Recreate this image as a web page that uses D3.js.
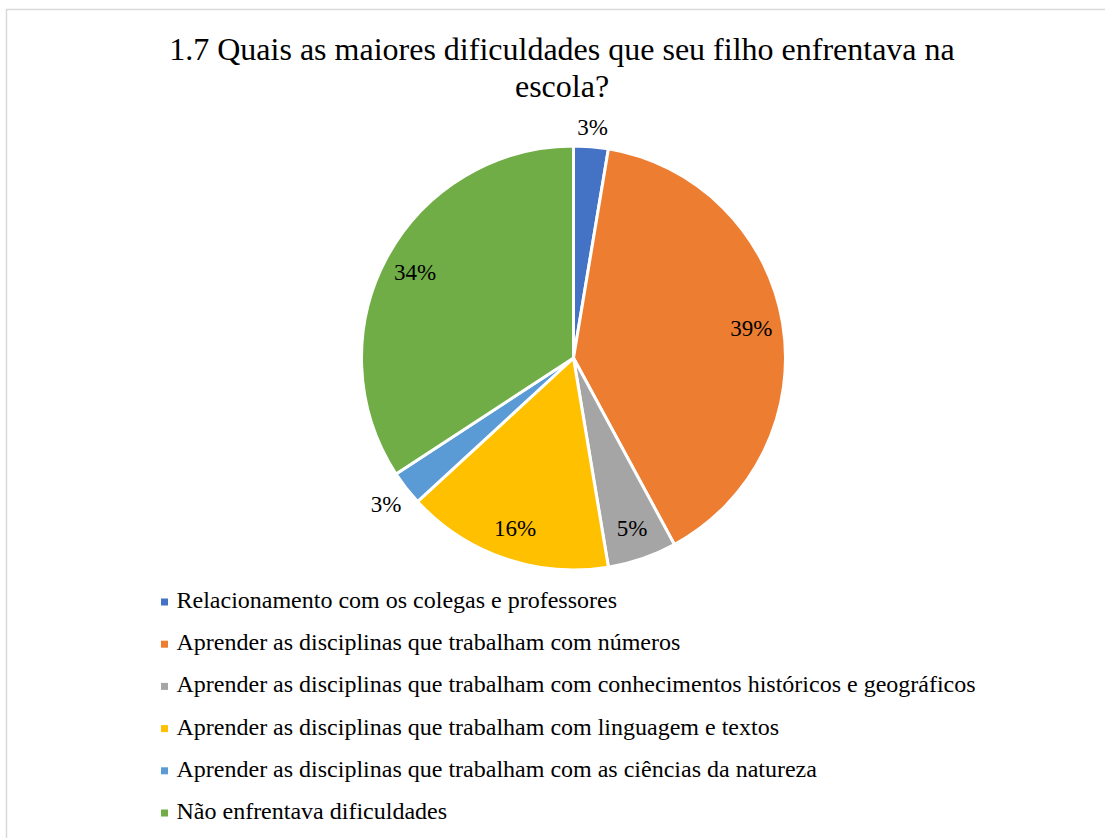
<!DOCTYPE html>
<html lang="pt">
<head>
  <meta charset="utf-8">
  <title>1.7 Quais as maiores dificuldades</title>
  <script src="https://cdn.jsdelivr.net/npm/d3@7/dist/d3.min.js"></script>
  <style>
    body { margin: 0; background: #fff; }
  </style>
</head>
<body>
<script>
  // Respostas (contagens, total 38)
  var categories = [
    "Relacionamento com os colegas e professores",
    "Aprender as disciplinas que trabalham com números",
    "Aprender as disciplinas que trabalham com conhecimentos históricos e geográficos",
    "Aprender as disciplinas que trabalham com linguagem e textos",
    "Aprender as disciplinas que trabalham com as ciências da natureza",
    "Não enfrentava dificuldades"
  ];
  var counts = [1, 15, 2, 6, 1, 13];
  var colors = ["#4472C4", "#ED7D31", "#A5A5A5", "#FFC000", "#5B9BD5", "#70AD47"];
  var titleLines = ["1.7 Quais as maiores dificuldades que seu filho enfrentava na", "escola?"];

  var width = 1105, height = 838;
  var cx = 573.5, cy = 358, radius = 212;
  var serif = "'Liberation Serif', 'Times New Roman', Times, serif";

  var svg = d3.select("body").append("svg")
    .attr("width", width)
    .attr("height", height)
    .attr("font-family", serif);

  // chart border
  svg.append("rect")
    .attr("x", 6.5).attr("y", 9.5)
    .attr("width", width + 10).attr("height", height + 10)
    .attr("fill", "none")
    .attr("stroke", "#d9d9d9")
    .attr("stroke-width", 1.5);

  // title
  svg.append("g").selectAll("text")
    .data(titleLines)
    .enter().append("text")
    .attr("x", 562)
    .attr("y", function(d, i) { return 60 + i * 37; })
    .attr("text-anchor", "middle")
    .attr("font-size", 32)
    .attr("fill", "#000")
    .text(function(d) { return d; });

  var total = d3.sum(counts);
  var pie = d3.pie().sort(null).value(function(d) { return d; });
  var arc = d3.arc().innerRadius(0).outerRadius(radius);
  var arcs = pie(counts);

  var g = svg.append("g")
    .attr("transform", "translate(" + cx + "," + cy + ")");

  g.selectAll("path")
    .data(arcs)
    .enter().append("path")
    .attr("d", arc)
    .attr("fill", function(d, i) { return colors[i]; })
    .attr("stroke", "#fff")
    .attr("stroke-width", 3)
    .attr("stroke-linejoin", "round");

  // data labels: inside for big slices, outside for small ones
  g.selectAll("text")
    .data(arcs)
    .enter().append("text")
    .attr("text-anchor", "middle")
    .attr("dy", "0.35em")
    .attr("font-size", 23)
    .attr("fill", "#000")
    .attr("transform", function(d) {
      var a = (d.startAngle + d.endAngle) / 2;
      var s = Math.sin(a), c = -Math.cos(a);
      var r;
      if (d.value / total < 0.04) {
        var ext = Math.min(16 / Math.max(Math.abs(s), 1e-6), 9 / Math.max(Math.abs(c), 1e-6));
        r = radius + 11 + ext;
      } else {
        r = radius * 0.85;
      }
      return "translate(" + (s * r) + "," + (c * r) + ")";
    })
    .text(function(d) { return Math.round(d.value / total * 100) + "%"; });

  // legend
  var legend = svg.append("g")
    .attr("transform", "translate(161,602)");

  var item = legend.selectAll("g")
    .data(categories)
    .enter().append("g")
    .attr("transform", function(d, i) { return "translate(0," + (i * 42.2) + ")"; });

  item.append("rect")
    .attr("x", 0).attr("y", -3.5)
    .attr("width", 7).attr("height", 7)
    .attr("fill", function(d, i) { return colors[i]; });

  item.append("text")
    .attr("x", 15.5)
    .attr("y", 6)
    .attr("font-size", 24)
    .attr("fill", "#000")
    .text(function(d) { return d; });
</script>
</body>
</html>
